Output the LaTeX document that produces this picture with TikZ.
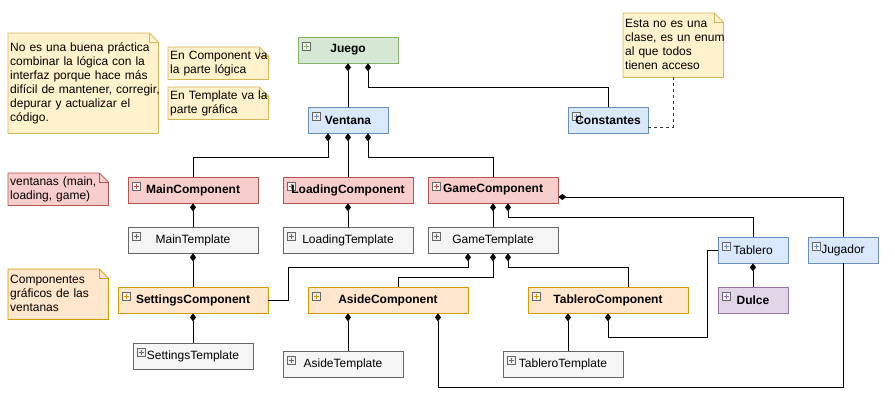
\documentclass[tikz,border=0pt]{standalone}
\usepackage{fontspec}
\setmainfont{Liberation Sans}
\usetikzlibrary{arrows.meta,backgrounds}

\definecolor{verdefondo}{HTML}{D5E8D4}
\definecolor{verdeborde}{HTML}{82B366}
\definecolor{azulfondo}{HTML}{DAE8FC}
\definecolor{azulborde}{HTML}{6C8EBF}
\definecolor{rojofondo}{HTML}{F8CECC}
\definecolor{rojoborde}{HTML}{B85450}
\definecolor{grisfondo}{HTML}{F5F5F5}
\definecolor{grisborde}{HTML}{666666}
\definecolor{naranjafondo}{HTML}{FFE6CC}
\definecolor{naranjaborde}{HTML}{D79B00}
\definecolor{moradofondo}{HTML}{E1D5E7}
\definecolor{moradoborde}{HTML}{9673A6}
\definecolor{notafondo}{HTML}{FFF2CC}
\definecolor{notaborde}{HTML}{D6B656}

\newcommand{\letra}{\fontsize{12}{14}\selectfont}
% hoja con la esquina doblada detras de una nota
\newcommand{\doblez}[3]{%
    \filldraw[fill=#2, draw=#3, line width=0.8pt] (#1.north west) -- ([xshift=-9pt]#1.north east) -- ([yshift=-9pt]#1.north east) -- (#1.south east) -- (#1.south west) -- cycle;
    \draw[draw=#3, line width=0.8pt] ([xshift=-9pt]#1.north east) |- ([yshift=-9pt]#1.north east);
}

\begin{document}
\begin{tikzpicture}[x=1pt, y=-1pt,
    clase/.style={draw, line width=0.8pt, minimum height=26pt, inner sep=2pt, font=\letra\bfseries,
        path picture={
            \draw[draw=gray!80!black, fill=gray!12, line width=0.4pt] ([shift={(4pt,-5pt)}]path picture bounding box.north west) rectangle ++(8pt,-8pt);
            \draw[line width=0.7pt] ([shift={(5.5pt,-9pt)}]path picture bounding box.north west) -- ++(5pt,0pt)
                                    ([shift={(8pt,-6.5pt)}]path picture bounding box.north west) -- ++(0pt,-5pt);
        }},
    verde/.style={clase, draw=verdeborde, fill=verdefondo},
    azul/.style={clase, draw=azulborde, fill=azulfondo},
    rojo/.style={clase, draw=rojoborde, fill=rojofondo},
    gris/.style={clase, draw=grisborde, fill=grisfondo, font=\letra},
    naranja/.style={clase, draw=naranjaborde, fill=naranjafondo},
    morado/.style={clase, draw=moradoborde, fill=moradofondo},
    nota/.style={anchor=north west, inner sep=2pt, align=left, font=\letra},
    comp/.style={arrows={Diamond[length=8pt,width=6pt]-}, line width=0.8pt},
]
    \useasboundingbox (0,0) rectangle (895,400);

    % Notas
    \node[nota, text width=146pt, minimum height=100pt] (notaPractica) at (8,33) {
        \begin{tabular}{@{}l@{}}
        No es una buena práctica\\
        combinar la lógica con la\\
        interfaz porque hace más\\
        difícil de mantener, corregir,\\
        depurar y actualizar el\\
        código.
        \end{tabular}
    };
    \node[nota, text width=96pt, minimum height=30pt] (notaComponent) at (168,47) {
        \begin{tabular}{@{}l@{}}
        En Component va\\
        la parte lógica
        \end{tabular}
    };
    \node[nota, text width=96pt, minimum height=30pt] (notaTemplate) at (168,87) {
        \begin{tabular}{@{}l@{}}
        En Template va la\\
        parte gráfica
        \end{tabular}
    };
    \node[nota, text width=96pt, minimum height=64pt] (notaEnum) at (623,13) {
        \begin{tabular}{@{}l@{}}
        Esta no es una\\
        clase, es un enum\\
        al que todos\\
        tienen acceso
        \end{tabular}
    };
    \node[nota, text width=96pt, minimum height=30pt] (notaVentanas) at (8,173) {
        \begin{tabular}{@{}l@{}}
        ventanas (main,\\
        loading, game)
        \end{tabular}
    };
    \node[nota, text width=96pt, minimum height=50pt] (notaGraficos) at (8,269) {
        \begin{tabular}{@{}l@{}}
        Componentes\\
        gráficos de las\\
        ventanas
        \end{tabular}
    };

    \begin{scope}[on background layer]
        \doblez{notaPractica}{notafondo}{notaborde}
        \doblez{notaComponent}{notafondo}{notaborde}
        \doblez{notaTemplate}{notafondo}{notaborde}
        \doblez{notaEnum}{notafondo}{notaborde}
        \doblez{notaVentanas}{rojofondo}{rojoborde}
        \doblez{notaGraficos}{naranjafondo}{naranjaborde}
    \end{scope}

    % Clases
    \node[verde, minimum width=100pt] (juego) at (348,50) {Juego};
    \node[azul, minimum width=80pt] (ventana) at (348,120) {Ventana};
    \node[azul, minimum width=80pt] (constantes) at (608,120) {Constantes};

    \node[rojo, minimum width=130pt] (mainComp) at (193,190) {MainComponent};
    \node[rojo, minimum width=130pt] (loadingComp) at (348,190) {LoadingComponent};
    \node[rojo, minimum width=130pt] (gameComp) at (493,190) {GameComponent};

    \node[gris, minimum width=130pt] (mainTpl) at (193,240) {MainTemplate};
    \node[gris, minimum width=130pt] (loadingTpl) at (348,240) {LoadingTemplate};
    \node[gris, minimum width=130pt] (gameTpl) at (493,240) {GameTemplate};

    \node[naranja, minimum width=150pt] (settingsComp) at (193,300) {SettingsComponent};
    \node[naranja, minimum width=160pt] (asideComp) at (388,300) {AsideComponent};
    \node[naranja, minimum width=160pt] (tableroComp) at (608,300) {TableroComponent};

    \node[gris, minimum width=120pt] (settingsTpl) at (193,356) {SettingsTemplate};
    \node[gris, minimum width=120pt] (asideTpl) at (343,364) {AsideTemplate};
    \node[gris, minimum width=120pt] (tableroTpl) at (563,364) {TableroTemplate};

    \node[azul, minimum width=70pt, font=\letra] (tablero) at (753,250) {Tablero};
    \node[morado, minimum width=70pt] (dulce) at (753,300) {Dulce};
    \node[azul, minimum width=70pt, font=\letra] (jugador) at (843,250) {Jugador};

    % Composiciones
    \draw[comp] (juego.south) -- (ventana.north);
    \draw[comp] ([xshift=20pt]juego.south) -- ++(0,24) -| (constantes.north);
    \draw[comp] ([xshift=-20pt]ventana.south) -- ++(0,24) -| (mainComp.north);
    \draw[comp] (ventana.south) -- (loadingComp.north);
    \draw[comp] ([xshift=20pt]ventana.south) -- ++(0,24) -| (gameComp.north);
    \draw[comp] (mainComp.south) -- (mainTpl.north);
    \draw[comp] (loadingComp.south) -- (loadingTpl.north);
    \draw[comp] (gameComp.south) -- (gameTpl.north);
    \draw[comp] ([xshift=15pt]gameComp.south) -- ++(0,14) -| (tablero.north);
    \draw[comp] ([yshift=-7pt]gameComp.east) -| (jugador.north);
    \draw[comp] (mainTpl.south) -- (settingsComp.north);
    \draw[comp] ([xshift=-25pt]gameTpl.south) -- ++(0,14) -| ([xshift=20pt]settingsComp.east) -- (settingsComp.east);
    \draw[comp] (gameTpl.south) -- ++(0,24) -| ([xshift=10pt]asideComp.north);
    \draw[comp] ([xshift=15pt]gameTpl.south) -- ++(0,14) -| ([xshift=20pt]tableroComp.north);
    \draw[comp] (settingsComp.south) -- (settingsTpl.north);
    \draw[comp] ([xshift=-40pt]asideComp.south) -- ([xshift=-40pt]asideComp.south |- asideTpl.north);
    \draw[comp] ([xshift=50pt]asideComp.south) -- ++(0,74) -| (jugador.south);
    \draw[comp] ([xshift=-40pt]tableroComp.south) -- ([xshift=-40pt]tableroComp.south |- tableroTpl.north);
    \draw[comp] (tableroComp.south) -- ++(0,24) -| ([xshift=-10pt]tablero.west) -- (tablero.west);
    \draw[comp] (tablero.south) -- (dulce.north);

    % Enlace de la nota
    \draw[dashed, dash pattern=on 3pt off 3pt, draw=black!80, line width=0.8pt] ([yshift=-7pt]constantes.east) -| (notaEnum.south);
\end{tikzpicture}
\end{document}
